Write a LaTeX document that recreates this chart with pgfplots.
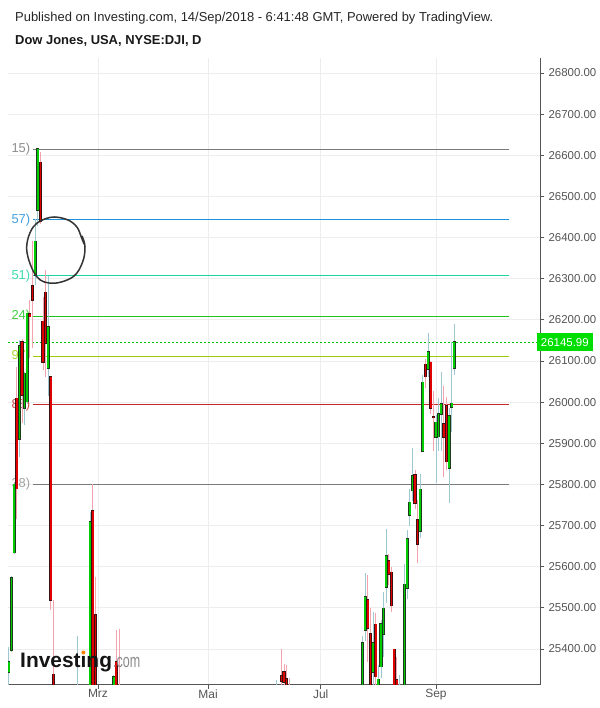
\documentclass[border=0pt]{standalone}
\usepackage{pgfplots}
\usepackage{pgfplotstable}
\pgfplotsset{compat=1.18}
\usepackage{fontspec}
\setmainfont{Liberation Sans}
\definecolor{gbody}{HTML}{00CC00}
\definecolor{rbody}{HTML}{E00000}
\definecolor{gwick}{HTML}{9EC8D0}
\definecolor{rwick}{HTML}{F4A3AE}
\definecolor{gedge}{HTML}{1E3A1E}
\definecolor{redge}{HTML}{3A1010}
\definecolor{axgray}{HTML}{555555}
\definecolor{fibgray}{HTML}{7A7A7A}
\definecolor{fibblue}{HTML}{1E90D8}
\definecolor{fibteal}{HTML}{1CD6A0}
\definecolor{fibgreen}{HTML}{22C422}
\definecolor{fibyellow}{HTML}{9ACD0A}
\definecolor{fibred}{HTML}{C42A2A}
\definecolor{pricegreen}{HTML}{00DD00}

% trading-day index (0 = 1 Mar 2018), open, high, low, close
\pgfplotstableread{
i o h l c
-34 25344 25405 25235 25368
-33 25397 25578 25392 25572
-32 25634 25804 25630 25800
-30 25910 26151 25867 26136
-28 25986 26072 25944 26070
-27 26001 26216 25996 26216
-24 26309 26445 26285 26391
-23 26467 26617 26427 26615
-19 26082 26306 26014 26183
-8 25165 25432 25149 25219
-3 25100 25733 25090 25709
6 24987 25336 24894 25333
68 25150 25325 25120 25241
101 25240 25432 25200 25414
102 25446 25584 25420 25526
105 25343 25491 25290 25414
107 25250 25360 25180 25326
108 25357 25470 25330 25461
109 25436 25538 25381 25499
110 25550 25691 25512 25627
115 25200 25337 25190 25299
117 25200 25606 25190 25557
118 25547 25690 25521 25667
119 25726 25788 25700 25756
120 25785 25889 25760 25820
123 25687 25825 25670 25788
124 25880 26066 25878 26048
126 26080 26169 26060 26123
129 25914 25969 25804 25951
130 25916 26009 25880 25971
131 25971 26072 25880 25995
134 25839 25985 25754 25967
135 25987 26145 25928 25997
136 26082 26190 26066 26146
}\greentab

\pgfplotstableread{
i o h l c
-31 26009 26086 25715 25790
-29 26147 26153 25949 26017
-26 26214 26248 26107 26208
-25 26282 26392 26132 26248
-22 26583 26608 26432 26439
-21 26196 26256 26078 26098
-20 26267 26320 26062 26143
-18 26062 26062 25495 25519
-17 25338 25520 24100 24345
-2 25735 25800 25100 25200
-1 25483 25576 25024 25029
7 25369 25446 25122 25179
8 25250 25449 24920 25007
70 25334 25400 25288 25322
71 25344 25363 25285 25320
72 25328 25361 25195 25201
73 25240 25330 25050 25175
103 25520 25580 25369 25451
104 25436 25499 25260 25307
106 25460 25488 25287 25333
111 25614 25632 25555 25582
112 25586 25600 25491 25505
113 25399 25400 25235 25313
114 25325 25381 25160 25187
121 25823 25835 25740 25754
122 25714 25762 25608 25654
125 26092 26105 26034 26062
127 26097 26100 25970 25985
128 25965 26027 25880 25962
132 25948 26039 25819 25914
133 25991 26012 25835 25855
}\redtab

\begin{document}
\begin{tikzpicture}
\path[use as bounding box, fill=white] (0,0) rectangle (600bp,708bp);
\node[anchor=base west, inner sep=0, font=\fontsize{13}{15}\selectfont, text=black!85] at (15bp,686bp) {Published on Investing.com, 14/Sep/2018 - 6:41:48 GMT, Powered by TradingView.};
\node[anchor=base west, inner sep=0, font=\fontsize{13}{15}\selectfont\bfseries, text=black!90] at (15bp,663bp) {Dow Jones, USA, NYSE:DJI, D};
\begin{axis}[
  at={(8bp,23bp)}, anchor=south west,
  scale only axis, width=532bp, height=627bp,
  xmin=-34.35, xmax=168.7, ymin=25312.4, ymax=26836.5,
  axis x line*=bottom, axis y line*=right,
  axis line style={draw=axgray, line width=1bp},
  xtick={0,42,85,129}, xticklabels={Mrz,Mai,Jul,Sep},
  ytick={25400,25500,25600,25700,25800,25900,26000,26100,26200,26300,26400,26500,26600,26700,26800},
  scaled y ticks=false,
  tick align=outside,
  major tick length=4bp,
  tick style={draw=axgray, line width=0.8bp},
  grid=major, major grid style={draw=black!7, line width=0.8bp},
  /pgf/number format/assume math mode=true,
  ticklabel style={font=\fontsize{11.5}{13}\selectfont, text=axgray},
  xticklabel style={font=\fontsize{12}{14}\selectfont, yshift=3bp},
  yticklabel style={xshift=1bp, /pgf/number format/fixed, /pgf/number format/fixed zerofill, /pgf/number format/precision=2, /pgf/number format/1000 sep={}},
  clip mode=individual,
]
% Fibonacci levels
\addplot[fibgray, line width=1bp] coordinates {(-24.8,26615) (156.9,26615)};
\addplot[fibblue, line width=1bp] coordinates {(-24.8,26443) (156.9,26443)};
\addplot[fibteal, line width=1bp] coordinates {(-24.8,26307) (156.9,26307)};
\addplot[fibgreen, line width=1bp] coordinates {(-24.8,26209) (156.9,26209)};
\addplot[fibyellow, line width=1bp] coordinates {(-24.8,26112) (156.9,26112)};
\addplot[fibred, line width=1bp] coordinates {(-24.8,25993) (156.9,25993)};
\addplot[fibgray, line width=1bp] coordinates {(-24.8,25800) (156.9,25800)};
\begin{scope}[every node/.style={anchor=east, inner sep=0.5bp, font=\fontsize{13}{15}\selectfont}]
\node[text=fibgray!85] at (axis cs:-25.6,26615) {15)};
\node[text=fibblue!85] at (axis cs:-25.6,26443) {57)};
\node[text=fibteal!85] at (axis cs:-25.6,26307) {51)};
\node[text=fibgreen!85] at (axis cs:-25.6,26209) {24)};
\node[text=fibyellow!85] at (axis cs:-25.6,26112) {97)};
\node[text=fibred!85] at (axis cs:-25.6,25993) {88)};
\node[text=fibgray!70] at (axis cs:-25.6,25800) {38)};
\end{scope}
% last price line
\addplot[pricegreen!85!black, line width=1bp, dash pattern=on 2bp off 2bp] coordinates {(-34.35,26145.99) (168.7,26145.99)};
% wicks
\addplot[gwick, line width=0.9bp, quiver={u=0, v=\thisrow{h}-\thisrow{l}}] table[x=i, y=l] {\greentab};
\addplot[rwick, line width=0.9bp, quiver={u=0, v=\thisrow{h}-\thisrow{l}}] table[x=i, y=l] {\redtab};
% bodies
\addplot[gedge, line width=3.1bp, quiver={u=0, v=\thisrow{c}-\thisrow{o}+3.4}] table[x=i, y expr=\thisrow{o}-1.7] {\greentab};
\addplot[gbody, line width=1.7bp, quiver={u=0, v=\thisrow{c}-\thisrow{o}}] table[x=i, y=o] {\greentab};
\addplot[redge, line width=3.1bp, quiver={u=0, v=\thisrow{o}-\thisrow{c}+3.4}] table[x=i, y expr=\thisrow{c}-1.7] {\redtab};
\addplot[rbody, line width=1.7bp, quiver={u=0, v=\thisrow{o}-\thisrow{c}}] table[x=i, y=c] {\redtab};
% hand-drawn circle
\addplot[black!80, line width=1.5bp, smooth, tension=0.6] coordinates {
(-6.1,26404) (-4.96,26378) (-5.84,26341) (-9.43,26305) (-17.06,26289) (-23.4,26305) (-27.2,26370) (-24.7,26426) (-18.3,26449) (-11.95,26444) (-8.1,26426) (-6.3,26400) (-5.3,26384)};
% last price label
\node[anchor=west, fill=pricegreen, text=white, inner xsep=4bp, inner ysep=0bp, minimum height=17.5bp, font=\fontsize{11.5}{13}\selectfont, xshift=-3.3bp] at (axis cs:168.7,26145.99) {26145.99};
\end{axis}
% Investing.com logo
\node[anchor=base west, inner sep=0, font=\fontsize{21}{21}\selectfont\bfseries, text=black!92] at (20bp,40bp) {Investing};
\node[anchor=base west, inner sep=0, xscale=0.66, font=\fontsize{19}{19}\selectfont, text=black!45] at (113bp,40bp) {.com};
\fill[orange] (83.4bp,55.5bp) circle (2bp);
\end{tikzpicture}
\end{document}
